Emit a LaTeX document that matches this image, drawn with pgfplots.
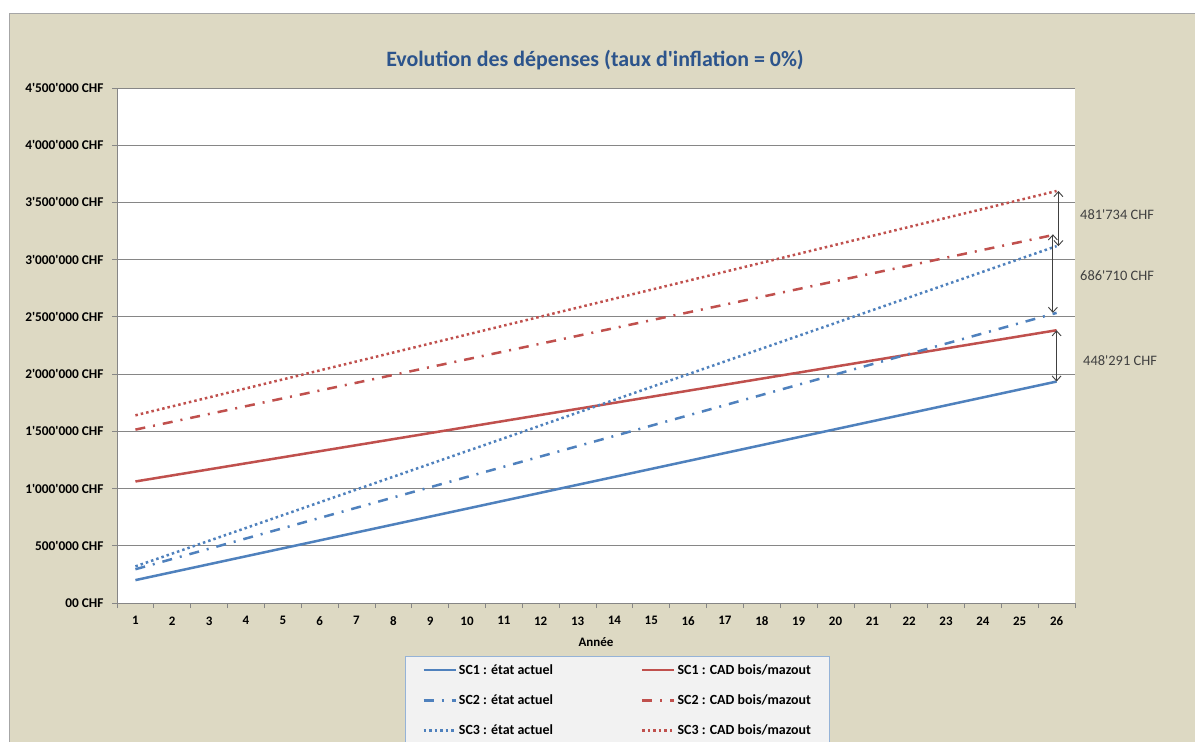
\documentclass[border=0pt]{standalone}
\usepackage{fontspec}
\setmainfont{Carlito}[Ligatures=TeXOff]
\usepackage{pgfplots}
\pgfplotsset{compat=1.18}
\usetikzlibrary{arrows.meta}
\definecolor{bgtan}{RGB}{221,217,195}
\definecolor{sblue}{RGB}{79,129,189}
\definecolor{sred}{RGB}{192,80,77}
\definecolor{ttl}{RGB}{44,84,140}
\definecolor{gridg}{RGB}{134,134,134}
\definecolor{legfill}{RGB}{242,242,242}
\definecolor{legdraw}{RGB}{149,179,215}
\definecolor{anno}{RGB}{64,64,64}
\begin{document}
\begin{tikzpicture}
\useasboundingbox (0bp,0bp) rectangle (1195bp,742bp);
\fill[white] (0bp,0bp) rectangle (1195bp,742bp);
\fill[bgtan] (9bp,-10bp) rectangle (1210bp,728bp);
\draw[gray!70, line width=1bp] (9bp,-10bp) -- (9bp,728bp) -- (1210bp,728bp);
\node[font=\fontsize{22}{24}\selectfont\bfseries, text=ttl] at (595bp,682bp) {Evolution des dépenses (taux d'inflation = 0\%)};
\begin{axis}[at={(117bp,139bp)}, anchor=south west, scale only axis, width=958bp, height=515bp,
  xmin=0.5, xmax=26.5, ymin=0, ymax=4500000,
  scaled y ticks=false,
  axis background/.style={fill=white},
  axis x line*=bottom, axis y line*=left,
  axis line style={gridg, line width=0.8bp},
  ytick={0,500000,1000000,1500000,2000000,2500000,3000000,3500000,4000000,4500000},
  yticklabels={00 CHF, 500'000 CHF, 1'000'000 CHF, 1'500'000 CHF, 2'000'000 CHF, 2'500'000 CHF, 3'000'000 CHF, 3'500'000 CHF, 4'000'000 CHF, 4'500'000 CHF},
  yticklabel style={xshift=-5bp},
  ymajorgrids, grid style={gridg, line width=0.8bp},
  xtick={0.5,1.5,2.5,3.5,4.5,5.5,6.5,7.5,8.5,9.5,10.5,11.5,12.5,13.5,14.5,15.5,16.5,17.5,18.5,19.5,20.5,21.5,22.5,23.5,24.5,25.5,26.5},
  xticklabels={},
  extra x ticks={1,2,3,4,5,6,7,8,9,10,11,12,13,14,15,16,17,18,19,20,21,22,23,24,25,26},
  extra x tick labels={1,2,3,4,5,6,7,8,9,10,11,12,13,14,15,16,17,18,19,20,21,22,23,24,25,26},
  extra x tick style={major tick length=0pt, grid=none, xticklabel style={yshift=-10bp, font=\fontsize{13}{15}\selectfont\bfseries}},
  tick align=outside, major tick length=5bp,
  tick style={gridg, line width=0.8bp},
  ticklabel style={font=\fontsize{13.4}{15}\selectfont\bfseries, text=black},
  xlabel={Année}, xlabel style={font=\fontsize{13}{15}\selectfont\bfseries},
  legend columns=2,
  legend cell align=left,
  legend style={at={(0.3006,-0.1029)}, anchor=north west, fill=legfill, draw=legdraw, line width=1bp,
    font=\fontsize{14}{16}\selectfont\bfseries, inner xsep=17bp, inner ysep=6bp, row sep=15bp,
    /tikz/column 2/.style={column sep=86bp}},
  legend image code/.code={\draw[#1] (0bp,0bp) -- (32bp,0bp);},
]
\addplot[sblue, line width=2.5bp] coordinates {(1,200000) (2,269400) (3,338800) (4,408200) (5,477600) (6,547000) (7,616400) (8,685800) (9,755200) (10,824600) (11,894000) (12,963400) (13,1032800) (14,1102200) (15,1171600) (16,1241000) (17,1310400) (18,1379800) (19,1449200) (20,1518600) (21,1588000) (22,1657400) (23,1726800) (24,1796200) (25,1865600) (26,1935000)};
\addlegendentry{SC1 : état actuel}
\addplot[sred, line width=2.5bp] coordinates {(1,1062000) (2,1114852) (3,1167704) (4,1220556) (5,1273408) (6,1326260) (7,1379112) (8,1431964) (9,1484816) (10,1537668) (11,1590520) (12,1643372) (13,1696224) (14,1749076) (15,1801928) (16,1854780) (17,1907632) (18,1960484) (19,2013336) (20,2066188) (21,2119040) (22,2171892) (23,2224744) (24,2277596) (25,2330448) (26,2383300)};
\addlegendentry{SC1 : CAD bois/mazout}
\addplot[sblue, line width=2.5bp, dash pattern=on 10bp off 8bp on 2bp off 8bp] coordinates {(1,295000) (2,384600) (3,474200) (4,563800) (5,653400) (6,743000) (7,832600) (8,922200) (9,1011800) (10,1101400) (11,1191000) (12,1280600) (13,1370200) (14,1459800) (15,1549400) (16,1639000) (17,1728600) (18,1818200) (19,1907800) (20,1997400) (21,2087000) (22,2176600) (23,2266200) (24,2355800) (25,2445400) (26,2535000)};
\addlegendentry{SC2 : état actuel}
\addplot[sred, line width=2.5bp, dash pattern=on 10bp off 8bp on 2bp off 8bp] coordinates {(1,1515000) (2,1583268) (3,1651536) (4,1719804) (5,1788072) (6,1856340) (7,1924608) (8,1992876) (9,2061144) (10,2129412) (11,2197680) (12,2265948) (13,2334216) (14,2402484) (15,2470752) (16,2539020) (17,2607288) (18,2675556) (19,2743824) (20,2812092) (21,2880360) (22,2948628) (23,3016896) (24,3085164) (25,3153432) (26,3221700)};
\addlegendentry{SC2 : CAD bois/mazout}
\addplot[sblue, line width=2.5bp, dash pattern=on 2.5bp off 3bp] coordinates {(1,320000) (2,431931) (3,543862) (4,655793) (5,767724) (6,879655) (7,991586) (8,1103517) (9,1215448) (10,1327379) (11,1439310) (12,1551241) (13,1663172) (14,1775103) (15,1887034) (16,1998965) (17,2110896) (18,2222827) (19,2334758) (20,2446689) (21,2558620) (22,2670551) (23,2782482) (24,2894413) (25,3006344) (26,3118275)};
\addlegendentry{SC3 : état actuel}
\addplot[sred, line width=2.5bp, dash pattern=on 2.5bp off 3bp] coordinates {(1,1640000) (2,1718400) (3,1796800) (4,1875200) (5,1953600) (6,2032000) (7,2110400) (8,2188800) (9,2267200) (10,2345600) (11,2424000) (12,2502400) (13,2580800) (14,2659200) (15,2737600) (16,2816000) (17,2894400) (18,2972800) (19,3051200) (20,3129600) (21,3208000) (22,3286400) (23,3364800) (24,3443200) (25,3521600) (26,3600000)};
\addlegendentry{SC3 : CAD bois/mazout}
\draw[{Straight Barb[length=5bp,width=9bp]}-{Straight Barb[length=5bp,width=9bp]}, anno, line width=0.9bp] (axis cs:26,1935000) -- (axis cs:26,2383300);
\draw[{Straight Barb[length=5bp,width=9bp]}-{Straight Barb[length=5bp,width=9bp]}, anno, line width=0.9bp] (axis cs:25.9,3221700) -- (axis cs:25.9,2535000);
\draw[{Straight Barb[length=5bp,width=9bp]}-{Straight Barb[length=5bp,width=9bp]}, anno, line width=0.9bp] (axis cs:26.05,3600000) -- (axis cs:26.05,3118275);
\end{axis}
\node[anchor=west, font=\fontsize{14.5}{16}\selectfont, text=anno, inner sep=0pt] at (1080bp,527bp) {481'734 CHF};
\node[anchor=west, font=\fontsize{14.5}{16}\selectfont, text=anno, inner sep=0pt] at (1080bp,466bp) {686'710 CHF};
\node[anchor=west, font=\fontsize{14.5}{16}\selectfont, text=anno, inner sep=0pt] at (1083bp,381bp) {448'291 CHF};
\end{tikzpicture}
\end{document}
